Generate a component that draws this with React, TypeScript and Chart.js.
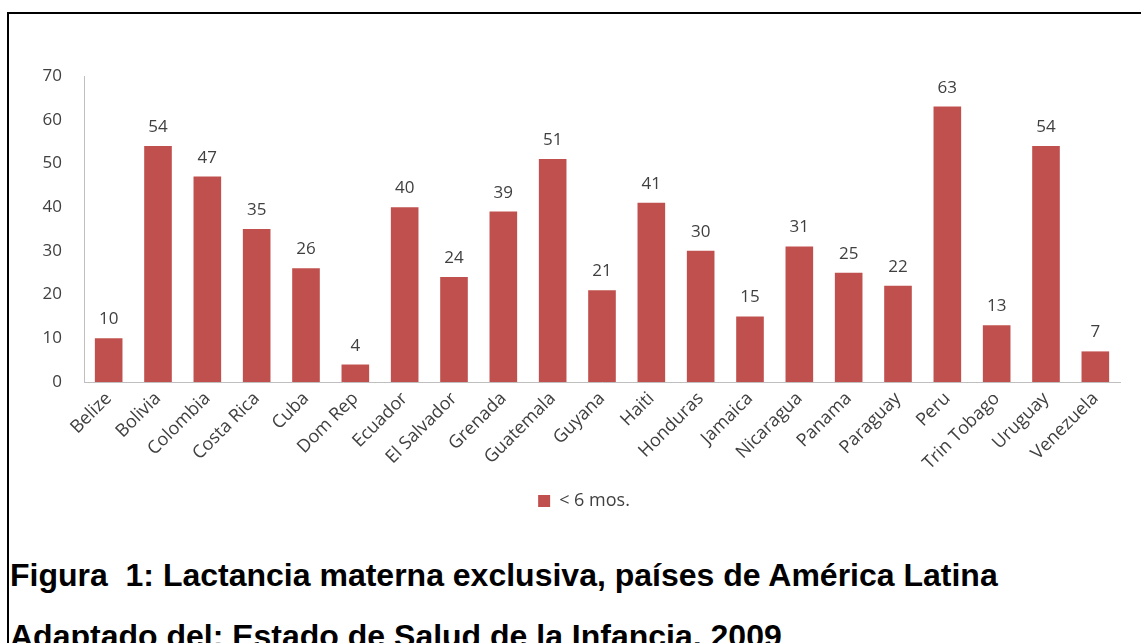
import React, { useEffect, useRef } from "react";
import { Chart, registerables } from "chart.js";

Chart.register(...registerables);

const countries = [
  "Belize", "Bolivia", "Colombia", "Costa Rica", "Cuba", "Dom Rep", "Ecuador",
  "El Salvador", "Grenada", "Guatemala", "Guyana", "Haiti", "Honduras", "Jamaica",
  "Nicaragua", "Panama", "Paraguay", "Peru", "Trin Tobago", "Uruguay", "Venezuela",
];
const under6Months = [10, 54, 47, 35, 26, 4, 40, 24, 39, 51, 21, 41, 30, 15, 31, 25, 22, 63, 13, 54, 7];
const seriesLabel = "< 6 mos.";
const captionLine1 = "Figura  1: Lactancia materna exclusiva, países de América Latina";
const captionLine2 = "Adaptado del: Estado de Salud de la Infancia, 2009";

const TEXT = "#404040";
const FONT = "'Open Sans', sans-serif";

const valueLabels = {
  id: "valueLabels",
  afterDatasetsDraw(chart: any) {
    const ctx = chart.ctx;
    const meta = chart.getDatasetMeta(0);
    const data = chart.data.datasets[0].data as number[];
    ctx.save();
    ctx.font = `17px ${FONT}`;
    ctx.fillStyle = TEXT;
    ctx.textAlign = "center";
    ctx.textBaseline = "alphabetic";
    meta.data.forEach((bar: any, i: number) => {
      ctx.fillText(String(data[i]), bar.x, bar.y - 14);
    });
    ctx.restore();
  },
};

// centre the legend under the whole figure rather than the padded layout box
const legendShift = {
  id: "legendShift",
  afterLayout(chart: any) {
    const lg = chart.legend;
    if (lg) {
      lg.left += 9;
      lg.right += 9;
    }
  },
};

function BarChart() {
  const ref = useRef<HTMLCanvasElement | null>(null);
  useEffect(() => {
    if (!ref.current) return;
    const chart = new Chart(ref.current, {
      type: "bar",
      data: {
        labels: countries,
        datasets: [
          {
            label: seriesLabel,
            data: under6Months,
            backgroundColor: "#C0504D",
            borderWidth: 0,
            barPercentage: 0.56,
            categoryPercentage: 1,
          },
        ],
      },
      options: {
        responsive: false,
        animation: false,
        layout: { padding: { left: 30, right: 21, top: 76, bottom: 0 } },
        plugins: {
          legend: {
            position: "bottom",
            labels: {
              boxWidth: 12,
              boxHeight: 12,
              padding: 10,
              color: TEXT,
              font: { family: FONT, size: 18 },
            },
          },
          tooltip: { enabled: false },
        },
        scales: {
          x: {
            grid: { display: false, drawTicks: false },
            border: { display: true, color: "#BFBFBF", width: 1 },
            ticks: {
              color: TEXT,
              font: { family: FONT, size: 18 },
              minRotation: 45,
              maxRotation: 45,
              padding: 6,
              autoSkip: false,
            },
            afterFit(scale: any) {
              scale.height = 100;
            },
          },
          y: {
            min: 0,
            max: 70,
            grid: { display: false, drawTicks: false },
            border: { display: true, color: "#BFBFBF", width: 1 },
            ticks: {
              stepSize: 10,
              color: TEXT,
              font: { family: FONT, size: 17 },
              padding: 22,
            },
            afterFit(scale: any) {
              scale.width = 54;
            },
          },
        },
      },
      plugins: [valueLabels, legendShift],
    });
    return () => chart.destroy();
  }, []);
  return (
    <canvas
      ref={ref}
      width={1141}
      height={520}
      style={{ position: "absolute", left: 0, top: 0, width: 1141, height: 520 }}
    />
  );
}

export default function App() {
  const captionStyle: React.CSSProperties = {
    position: "absolute",
    left: 10,
    margin: 0,
    fontFamily: "'Liberation Sans', Arial, sans-serif",
    fontWeight: "bold",
    fontSize: 32,
    lineHeight: "32px",
    color: "#000",
    whiteSpace: "pre",
  };
  return (
    <div
      style={{
        position: "fixed",
        left: 0,
        top: 0,
        width: 1141,
        height: 643,
        overflow: "hidden",
        background: "#fff",
      }}
    >
      <div
        style={{
          position: "absolute",
          left: 7,
          top: 12,
          right: -10,
          bottom: -10,
          borderTop: "2px solid #000",
          borderLeft: "2px solid #000",
        }}
      />
      <BarChart />
      <div style={{ ...captionStyle, top: 559 }}>{captionLine1}</div>
      <div style={{ ...captionStyle, top: 620 }}>{captionLine2}</div>
    </div>
  );
}
